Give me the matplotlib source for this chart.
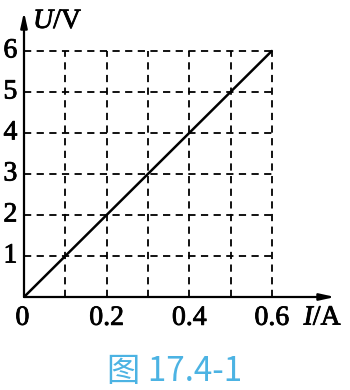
import matplotlib.pyplot as plt
import matplotlib.patheffects as pe

plt.rcParams['font.family'] = ['Liberation Serif', 'DejaVu Serif']
plt.rcParams['mathtext.fontset'] = 'custom'
plt.rcParams['mathtext.it'] = 'Liberation Serif:italic'
plt.rcParams['mathtext.rm'] = 'Liberation Serif'

# data
current = [0.0, 0.1, 0.2, 0.3, 0.4, 0.5, 0.6]
voltage = [0, 1, 2, 3, 4, 5, 6]
x_ticks = [0.2, 0.4, 0.6]
x_grid = [0.1, 0.2, 0.3, 0.4, 0.5, 0.6]
y_ticks = [1, 2, 3, 4, 5, 6]
caption = '图 17.4-1'

fig = plt.figure(figsize=(3.5, 3.9), dpi=100)
ax = fig.add_axes([24 / 350, 1 - 297 / 390, 311 / 350, 285 / 390])
ax.set_xlim(0, 0.753)
ax.set_ylim(0, 6.95)
ax.axis('off')

# dashed grid
for x in x_grid:
    ax.plot([x, x], [0, 6], color='black', lw=1.3, ls=(0, (4, 3)))
for y in y_ticks:
    ax.plot([0, 0.6], [y, y], color='black', lw=1.3, ls=(0, (4, 3)))

# axes with arrows
arrow = dict(arrowstyle='-|>,head_length=0.9,head_width=0.2',
             color='black', lw=1.6, shrinkA=0, shrinkB=0)
ax.annotate('', xy=(0.753, 0), xytext=(0, 0), arrowprops=arrow)
ax.annotate('', xy=(0, 6.95), xytext=(0, 0), arrowprops=arrow)

# the line
ax.plot(current, voltage, color='black', lw=1.8, solid_capstyle='round')

fs = 20
bold = [pe.withStroke(linewidth=0.6, foreground='black')]
for y in y_ticks:
    ax.text(-0.033, y, str(y), ha='center', va='center', fontsize=fs,
            path_effects=bold)
ax.text(-0.004, -0.52, '0', ha='center', va='center', fontsize=fs,
        path_effects=bold)
for x in x_ticks:
    ax.text(x, -0.52, str(x), ha='center', va='center', fontsize=fs,
            path_effects=bold)
ax.text(0.724, -0.52, r'$\mathit{I}$/A', ha='center', va='center', fontsize=fs,
        path_effects=bold)
ax.text(0.022, 6.72, r'$\mathit{U}$/V', ha='left', va='center', fontsize=fs,
        path_effects=bold)

fig.text(175 / 350, 1 - 372 / 390, caption, ha='center', va='center',
         fontsize=24, color='#4cb3e3', fontweight='light',
         family=['Noto Sans CJK SC', 'DejaVu Sans'])

fig.savefig('out.png')
